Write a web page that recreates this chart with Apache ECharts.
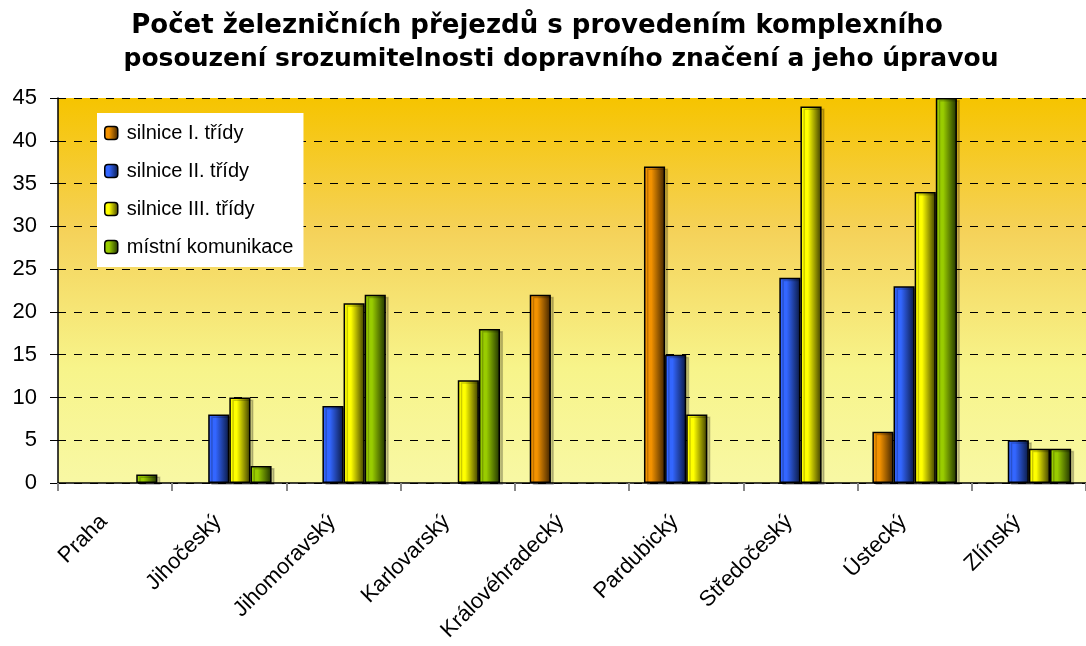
<!DOCTYPE html>
<html>
<head>
<meta charset="utf-8">
<script src="https://cdn.jsdelivr.net/npm/echarts@6/dist/echarts.min.js"></script>
<style>
  html, body { margin: 0; padding: 0; background: #fff; }
  #chart { width: 1086px; height: 646px; }
</style>
</head>
<body>
<div id="chart"></div>
<script>
const categories = ["Praha", "Jihočeský", "Jihomoravský", "Karlovarský", "Královéhradecký",
  "Pardubický", "Středočeský", "Ústecký", "Zlínský"];
const silniceI = [0, 0, 0, 0, 22, 37, 0, 6, 0];
const silniceII = [0, 8, 9, 0, 0, 15, 24, 23, 5];
const silniceIII = [0, 10, 21, 12, 0, 8, 44, 34, 4];
const mistni = [1, 2, 22, 18, 0, 0, 0, 45, 4];
const seriesNames = ["silnice I. třídy", "silnice II. třídy", "silnice III. třídy", "místní komunikace"];
const titleLines = ["Počet železničních přejezdů s provedením komplexního",
  "posouzení srozumitelnosti dopravního značení a jeho úpravou"];

const font = "Liberation Sans, Arial, sans-serif";
const titleFont = "DejaVu Sans, Liberation Sans, sans-serif";

// horizontal gradient: bright on the left, dark on the right
const barFill = (light, dark) => new echarts.graphic.LinearGradient(0, 0, 1, 0, [
  { offset: 0, color: light },
  { offset: 0.35, color: light },
  { offset: 1, color: dark },
]);

const fills = [
  barFill("#f39200", "#3d2200"),
  barFill("#3366ff", "#0a1840"),
  barFill("#ffff00", "#3a3a00"),
  barFill("#99cc00", "#1e3000"),
];

// zero means no bar at all in the original chart
const makeSeries = (name, data, i) => ({
  name,
  type: "bar",
  data: data.map(v => (v === 0 ? "-" : v)),
  barGap: 0,
  barCategoryGap: "26%",
  itemStyle: {
    color: fills[i],
    borderColor: "#000",
    borderWidth: 1.5,
    shadowColor: "rgba(0,0,0,0.2)",
    shadowOffsetX: 3,
    shadowOffsetY: 2,
  },
});

const titleStyle = { fontFamily: titleFont, fontSize: 25, fontWeight: "bold", color: "#000" };

const chart = echarts.init(document.getElementById("chart"));
chart.setOption({
  animation: false,
  title: [
    { text: titleLines[0], left: 532, textAlign: "center", top: 8, textStyle: { ...titleStyle, fontSize: 26 } },
    { text: titleLines[1], left: 556, textAlign: "center", top: 42, textStyle: titleStyle },
  ],
  legend: {
    orient: "vertical",
    left: 97,
    top: 113,
    backgroundColor: "#fff",
    padding: [10, 10, 10, 7],
    itemWidth: 13,
    itemHeight: 13,
    itemGap: 18,
    data: seriesNames,
    textStyle: { fontFamily: font, fontSize: 20, color: "#000", lineHeight: 20, padding: [0, 0, 0, 4] },
    itemStyle: { borderColor: "#000", borderWidth: 1.5, shadowColor: "transparent" },
  },
  grid: {
    left: 58,
    right: 0,
    top: 98,
    bottom: 163,
    show: true,
    borderWidth: 0,
    backgroundColor: new echarts.graphic.LinearGradient(0, 0, 0, 1, [
      { offset: 0, color: "#f6c400" },
      { offset: 0.35, color: "#f5d25a" },
      { offset: 0.7, color: "#f7f48a" },
      { offset: 1, color: "#f8f8a4" },
    ]),
  },
  xAxis: {
    type: "category",
    data: categories,
    axisLine: { lineStyle: { color: "#000", width: 1.5 } },
    axisTick: { show: true, alignWithLabel: false, length: 8, lineStyle: { color: "#888", width: 2 } },
    axisLabel: {
      rotate: 45,
      margin: 24,
      interval: 0,
      padding: [0, 16, 0, 0],
      fontFamily: font,
      fontSize: 22,
      color: "#000",
    },
  },
  yAxis: {
    type: "value",
    min: 0,
    max: 45,
    interval: 5,
    axisLine: { show: true, lineStyle: { color: "#000", width: 1.5 } },
    axisTick: { show: true, length: 8, lineStyle: { color: "#000" } },
    axisLabel: { fontFamily: font, fontSize: 22, color: "#000", margin: 21 },
    splitLine: { show: true, lineStyle: { color: "#000", type: [8, 8], width: 1 } },
  },
  series: [
    makeSeries(seriesNames[0], silniceI, 0),
    makeSeries(seriesNames[1], silniceII, 1),
    makeSeries(seriesNames[2], silniceIII, 2),
    makeSeries(seriesNames[3], mistni, 3),
  ],
});
</script>
</body>
</html>
